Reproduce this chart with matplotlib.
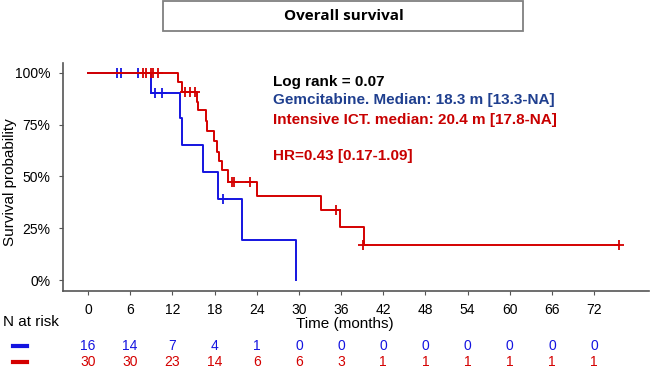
import matplotlib.pyplot as plt
from matplotlib.patches import Rectangle

plt.rcParams['font.family'] = ['Liberation Sans', 'DejaVu Sans']

# Gemcitabine (blue) KM curve: step times and survival after each step
gem_times = [0, 9.0, 13.1, 13.4, 16.3, 18.5, 21.9, 29.6]
gem_surv = [1.0, 0.905, 0.78, 0.65, 0.52, 0.39, 0.195, 0.0]
gem_cens_t = [4.1, 4.7, 7.1, 9.6, 10.5, 19.2]
gem_cens_s = [1.0, 1.0, 1.0, 0.905, 0.905, 0.39]

# Intensive ICT (red) KM curve
ict_times = [0, 12.8, 13.4, 15.5, 15.6, 16.8, 16.9, 17.9, 18.3, 18.6, 19.1, 19.9,
             24.0, 33.1, 35.8, 39.3]
ict_surv = [1.0, 0.955, 0.91, 0.86, 0.82, 0.77, 0.72, 0.67, 0.62, 0.575, 0.53,
            0.475, 0.405, 0.34, 0.255, 0.17]
ict_end = 75.5
ict_cens_t = [7.8, 8.3, 9.0, 9.3, 10.0, 13.8, 14.5, 15.2, 20.5, 20.8, 23.0, 35.3, 39.1, 75.5]
ict_cens_s = [1.0, 1.0, 1.0, 1.0, 1.0, 0.91, 0.91, 0.91, 0.475, 0.475, 0.475, 0.34, 0.17, 0.17]

# numbers at risk
risk_times = [0, 6, 12, 18, 24, 30, 36, 42, 48, 54, 60, 66, 72]
gem_risk = [16, 14, 7, 4, 1, 0, 0, 0, 0, 0, 0, 0, 0]
ict_risk = [30, 30, 23, 14, 6, 6, 3, 1, 1, 1, 1, 1, 1]
y_ticks = [0, 0.25, 0.5, 0.75, 1.0]
y_labels = ['0%', '25%', '50%', '75%', '100%']

BLUE = '#1414e0'
RED = '#d40000'
NAVY = '#1f3f8f'
TXTRED = '#c80000'

fig = plt.figure(figsize=(6.5, 3.69), dpi=100)
ax = fig.add_axes([63 / 650, 1 - 291 / 369, 586 / 650, 228 / 369])

# blue curve
ax.step(gem_times, gem_surv, where='post', color=BLUE, lw=1.4)
ax.plot(gem_cens_t, gem_cens_s, '+', color=BLUE, ms=7, mew=1.3)

# red curve
ax.step(ict_times + [ict_end], ict_surv + [ict_surv[-1]], where='post', color=RED, lw=1.4)
ax.plot(ict_cens_t, ict_cens_s, '+', color=RED, ms=7, mew=1.3)

ax.set_xlim(-3.55, 79.8)
ax.set_ylim(-0.053, 1.048)
ax.set_xticks(risk_times)
ax.set_xticklabels([str(t) for t in risk_times], fontsize=10)
ax.set_yticks(y_ticks)
ax.set_yticklabels(y_labels, fontsize=10)
ax.tick_params(length=3, color='#555555', pad=6)
for s in ['top', 'right']:
    ax.spines[s].set_visible(False)
for s in ['left', 'bottom']:
    ax.spines[s].set_color('#555555')
    ax.spines[s].set_linewidth(1.2)
fig.text(10 / 650, 1 - 182 / 369, 'Survival probability', rotation=90,
         ha='center', va='center', fontsize=11)

# annotation texts
tx = (273 - 88) / 7.04
ax.text(tx, 0.957, 'Log rank = 0.07', fontsize=11, fontweight='bold',
        color='black', va='center')
ax.text(tx, 0.870, 'Gemcitabine. Median: 18.3 m [13.3-NA]', fontsize=11,
        fontweight='bold', color=NAVY, va='center')
ax.text(tx, 0.773, 'Intensive ICT. median: 20.4 m [17.8-NA]', fontsize=11,
        fontweight='bold', color=TXTRED, va='center')
ax.text(tx, 0.599, 'HR=0.43 [0.17-1.09]', fontsize=11, fontweight='bold',
        color=TXTRED, va='center')

# title box
fig.patches.append(Rectangle((163 / 650, 1 - 31 / 369), 360 / 650, 30 / 369,
                             transform=fig.transFigure, fill=False,
                             edgecolor='#808080', lw=1.3))
fig.text(344 / 650, 1 - 16 / 369, 'Overall survival', ha='center', va='center',
         fontsize=11, fontweight='bold', family=['Open Sans', 'DejaVu Sans'])

# x label and risk table
fig.text(345 / 650, 1 - 324 / 369, 'Time (months)', ha='center', va='center', fontsize=11)
fig.text(3 / 650, 1 - 322 / 369, 'N at risk', ha='left', va='center', fontsize=11)
trans = ax.get_xaxis_transform()
for t, g, r in zip(risk_times, gem_risk, ict_risk):
    ax.text(t, -(346 - 291) / 228, str(g), transform=trans, ha='center',
            va='center', fontsize=10, color=BLUE, clip_on=False)
    ax.text(t, -(362 - 291) / 228, str(r), transform=trans, ha='center',
            va='center', fontsize=10, color=RED, clip_on=False)
fig.lines.append(plt.Line2D([13 / 650, 27 / 650], [1 - 346 / 369] * 2,
                            transform=fig.transFigure, color=BLUE, lw=3))
fig.lines.append(plt.Line2D([13 / 650, 27 / 650], [1 - 362 / 369] * 2,
                            transform=fig.transFigure, color=RED, lw=3))

fig.savefig('out.png', dpi=100)
